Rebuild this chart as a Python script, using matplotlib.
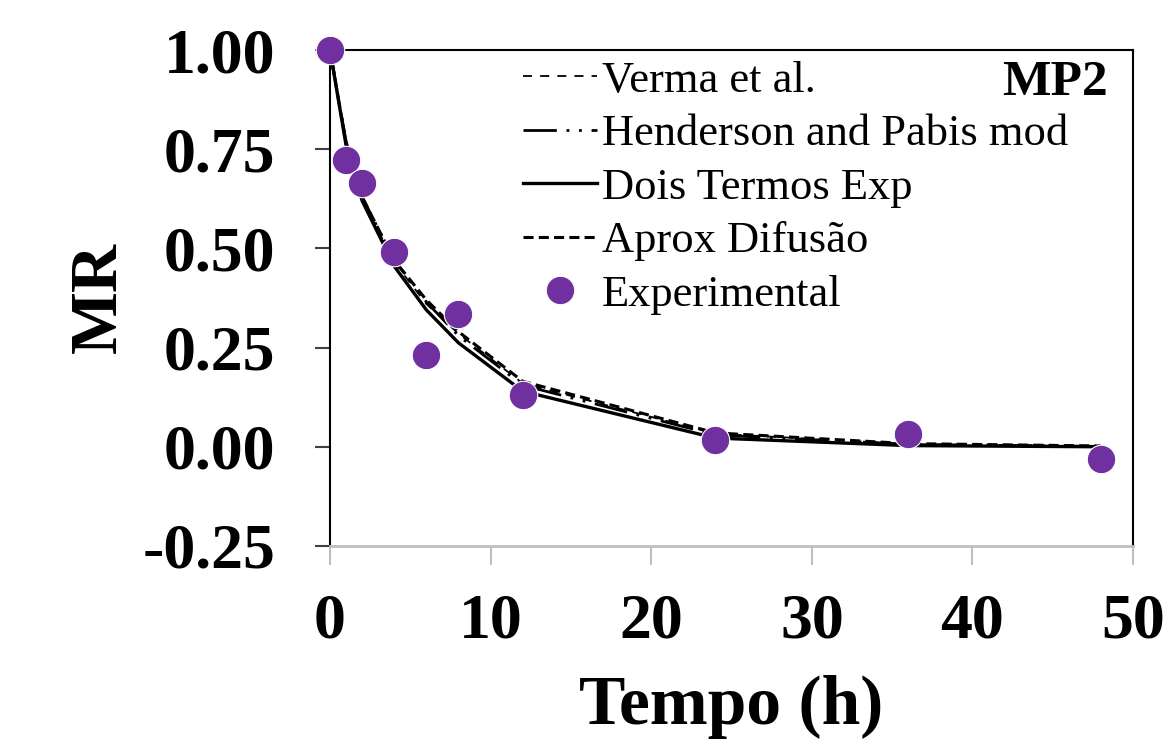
import matplotlib
matplotlib.use("Agg")
import matplotlib.pyplot as plt

# Data
tempo = [0, 1, 2, 4, 6, 8, 12, 24, 36, 48]
mr_exp = [1.00, 0.723, 0.665, 0.491, 0.232, 0.335, 0.131, 0.018, 0.033, -0.030]
mr_verma = [1.00, 0.765, 0.625, 0.465, 0.360, 0.285, 0.160, 0.033, 0.007, 0.001]
mr_henderson = [1.00, 0.770, 0.630, 0.470, 0.365, 0.280, 0.155, 0.030, 0.006, 0.001]
mr_dois = [1.00, 0.760, 0.620, 0.455, 0.345, 0.262, 0.140, 0.022, 0.003, 0.000]
mr_difusao = [1.00, 0.765, 0.630, 0.470, 0.370, 0.290, 0.165, 0.035, 0.008, 0.002]

labels = ["Verma et al.", "Henderson and Pabis mod", "Dois Termos Exp",
          "Aprox Difusão", "Experimental"]
xticks = [0, 10, 20, 30, 40, 50]
yticks = [-0.25, 0.00, 0.25, 0.50, 0.75, 1.00]
ytick_labels = ["-0.25", "0.00", "0.25", "0.50", "0.75", "1.00"]

plt.rcParams['font.family'] = ['Liberation Serif', 'DejaVu Serif']

fig = plt.figure(figsize=(11.64, 7.40), dpi=100)
ax = fig.add_axes([0.2835, 0.2622, 0.6899, 0.6702])

purple = "#7030A0"

l1, = ax.plot(tempo, mr_verma, color="black", lw=1.3, ls=(0, (5, 4.5)))
l2, = ax.plot(tempo, mr_henderson, color="black", lw=2.0, ls=(0, (12, 3.5, 1, 3.5, 1, 3.5)))
l3, = ax.plot(tempo, mr_dois, color="black", lw=2.4, ls="-")
l4, = ax.plot(tempo, mr_difusao, color="black", lw=2.2, ls=(0, (3.3, 1.7)))
l5, = ax.plot(tempo, mr_exp, ls="none", marker="o", ms=20.5, color=purple,
              markeredgecolor="white", markeredgewidth=0.8, clip_on=False, zorder=5)

ax.set_xlim(0, 50)
ax.set_ylim(-0.25, 1.00)
ax.set_xticks(xticks)
ax.set_xticklabels([str(v) for v in xticks])
ax.set_yticks(yticks)
ax.set_yticklabels(ytick_labels)

for lab in ax.get_xticklabels() + ax.get_yticklabels():
    lab.set_fontsize(46)
    lab.set_fontweight("bold")

ax.tick_params(axis="x", direction="out", length=14, width=1.5, color="#BFBFBF", pad=20.5)
ax.tick_params(axis="y", direction="out", length=11, width=1.5, color="#404040", pad=28.5)

ax.spines["bottom"].set_color("#BFBFBF")
ax.spines["bottom"].set_linewidth(2)
for s in ["left", "top", "right"]:
    ax.spines[s].set_color("black")
    ax.spines[s].set_linewidth(1.5)

ax.set_xlabel("Tempo (h)", fontsize=50, fontweight="bold", labelpad=17)
ax.set_ylabel("MR", fontsize=48, fontweight="bold", labelpad=9)

leg = ax.legend([l1, l2, l3, l4, l5], labels, loc="upper left",
                bbox_to_anchor=(0.2403, 0.978), frameon=False, fontsize=32,
                handlelength=1.67, handletextpad=0.1, labelspacing=0.3,
                borderaxespad=0, borderpad=0)

fig.text(1108 / 1164, 1 - 60 / 740, "MP2", ha="right", va="top",
         fontsize=37, fontweight="bold")

fig.savefig("out.png", dpi=100)
